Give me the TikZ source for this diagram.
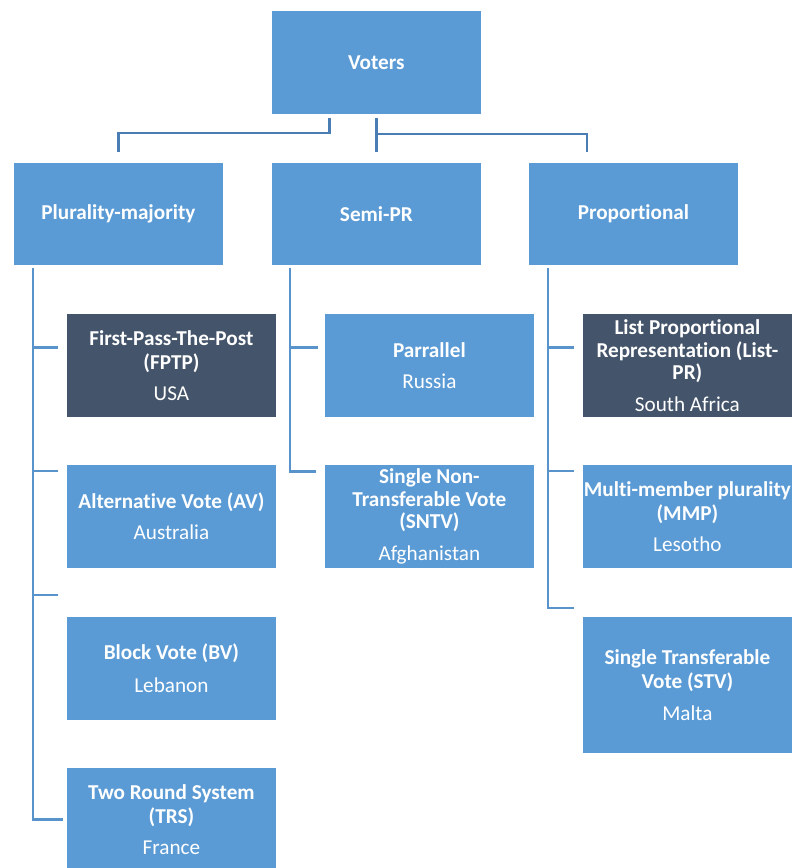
\documentclass[tikz,border=0pt]{standalone}
\usepackage{fontspec}
\setmainfont{Carlito}[Ligatures=NoCommon]
\usetikzlibrary{calc}
\definecolor{boxblue}{HTML}{5B9BD5}
\definecolor{boxdark}{HTML}{44546A}
\definecolor{topline}{HTML}{4A7DB3}
\definecolor{sideline}{HTML}{5893CC}
\newcommand{\boxfont}{\fontsize{21.2}{24.5}\selectfont}
\newcommand{\tightfont}{\fontsize{21.2}{22.5}\selectfont}
\begin{document}
\begin{tikzpicture}[x=1pt,y=-1pt,
  box/.style={draw=white, line width=0.8pt, fill=boxblue, text=white,
    minimum width=210, minimum height=104, inner sep=0pt,
    anchor=north west, align=center, font=\boxfont},
  darkbox/.style={box, fill=boxdark},
  tightbox/.style={font=\tightfont},
  toplink/.style={draw=topline, line width=2.6pt},
  sidelink/.style={draw=sideline, line width=2.6pt}]
\clip (0,0) rectangle (792,868);
\fill[white] (0,0) rectangle (792,868);

% root and the three families
\node[box] (voters) at (271,10) {\textbf{Voters}};
\node[box, minimum height=103] (plur) at (13,162) {\textbf{Plurality-majority}};
\node[box, minimum height=103] (semi) at (271,162) {\textbf{Semi-PR}};
\node[box, minimum height=103] (prop) at (528,162) {\textbf{Proportional}};

% plurality-majority systems
\node[darkbox] (fptp) at (66,313)
  {\textbf{First-Pass-The-Post}\\\textbf{(FPTP)}\\[6pt]USA};
\node[box] (av) at (66,464)
  {\textbf{Alternative Vote (AV)}\\[7pt]Australia};
\node[box] (bv) at (66,616)
  {\textbf{Block Vote (BV)}\\[8pt]Lebanon};
\node[box] (trs) at (66,767)
  {\textbf{Two Round System}\\\textbf{(TRS)}\\[6pt]France};

% semi-proportional systems
\node[box] (par) at (324,313)
  {\textbf{Parrallel}\\[7pt]Russia};
\node[box, tightbox] (sntv) at (324,464)
  {\textbf{Single Non-}\\\textbf{Transferable Vote}\\\textbf{(SNTV)}\\[9pt]Afghanistan};

% proportional systems
\node[darkbox, tightbox] (list) at (582,313)
  {\textbf{List Proportional}\\\textbf{Representation (List-}\\\textbf{PR)}\\[9pt]South Africa};
\node[box] (mmp) at (582,464)
  {\textbf{Multi-member plurality}\\\textbf{(MMP)}\\[6pt]Lesotho};
\node[box, minimum height=137] (stv) at (582,616)
  {\textbf{Single Transferable}\\\textbf{Vote (STV)}\\[7pt]Malta};

% links from the root
\draw[toplink] ($(voters.south)+(-47,3)$) |- ($(plur.north)+(0,-29)$)
  -- ($(plur.north)+(0,-10)$);
\draw[toplink] ($(voters.south)+(0,3)$) -- ($(semi.north)+(0,-10)$);
\draw[toplink] ($(voters.south)+(0,19)$) -| ($(prop.north)+(-46.5,-10)$);

% plurality-majority branch
\coordinate (pl) at ($(plur.south west)+(20,2)$);
\draw[sidelink] (pl) |- ($(trs.west)+(-3,0)$);
\draw[sidelink] ($(fptp.west)+(-8,-18)$) -- ($(fptp.west)+(-34,-18)$);
\draw[sidelink] ($(av.north west)+(-8,7)$) -- ($(av.north west)+(-34,7)$);
\draw[sidelink] ($(av.south west)+(-8,26)$) -- ($(av.south west)+(-34,26)$);

% semi-proportional branch
\coordinate (sl) at ($(semi.south west)+(19,2)$);
\draw[sidelink] (sl) |- ($(sntv.west)+(-8,-45)$);
\draw[sidelink] ($(par.west)+(-6,-18)$) -- ($(par.west)+(-35,-18)$);

% proportional branch
\coordinate (prl) at ($(prop.south west)+(20,2)$);
\draw[sidelink] (prl) |- ($(stv.north west)+(-8,-8)$);
\draw[sidelink] ($(list.west)+(-8,-18)$) -- ($(list.west)+(-35,-18)$);
\draw[sidelink] ($(mmp.north west)+(-8,7)$) -- ($(mmp.north west)+(-35,7)$);
\end{tikzpicture}
\end{document}
